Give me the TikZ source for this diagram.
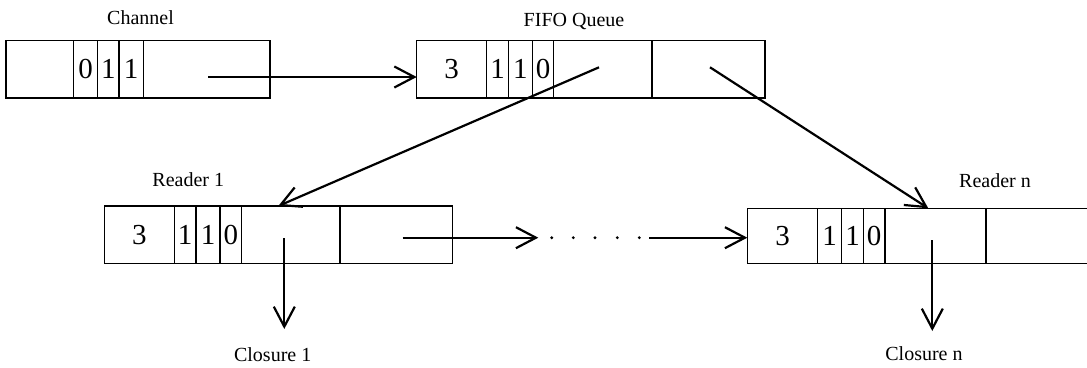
\documentclass[tikz,border=0pt]{standalone}
\usepackage{fontspec}
\setmainfont{Liberation Serif}
\usetikzlibrary{arrows.meta}
\begin{document}
\begin{tikzpicture}[x=1pt,y=-1pt,
  cell/.style={draw, line width=1.3pt, inner sep=0pt, outer sep=0pt, anchor=north west,
    font=\fontsize{29}{29}\selectfont},
  lbl/.style={anchor=base, inner sep=0pt, font=\fontsize{20}{20}\selectfont},
  arr/.style={line width=2.2pt, -{Straight Barb[length=20pt,width=21pt,line width=2.2pt]}}]
\useasboundingbox (0,0) rectangle (1087,367);
\begin{scope}
\clip (0,0) rectangle (1087,367);
% Channel
\node[cell, minimum width=67.7pt, minimum height=57.3pt] (c0) at (6,40.7) {};
\node[cell, minimum width=24pt, minimum height=57.3pt] (c1) at (73.7,40.7) {0};
\node[cell, minimum width=21.3pt, minimum height=57.3pt] (c2) at (97.7,40.7) {1};
\node[cell, minimum width=24.3pt, minimum height=57.3pt] (c3) at (119,40.7) {1};
\node[cell, minimum width=126.7pt, minimum height=57.3pt] (c4) at (143.3,40.7) {};
% FIFO Queue
\node[cell, minimum width=70pt, minimum height=57.3pt] (f0) at (416.7,40.7) {3};
\node[cell, minimum width=21.6pt, minimum height=57.3pt] (f1) at (486.7,40.7) {1};
\node[cell, minimum width=24pt, minimum height=57.3pt] (f2) at (508.3,40.7) {1};
\node[cell, minimum width=21.4pt, minimum height=57.3pt] (f3) at (532.3,40.7) {0};
\node[cell, minimum width=98.3pt, minimum height=57.3pt] (f4) at (553.7,40.7) {};
\node[cell, minimum width=113pt, minimum height=57.3pt] (f5) at (652,40.7) {};
% Reader 1
\node[cell, minimum width=70pt, minimum height=57.3pt] (a0) at (104.3,206) {3};
\node[cell, minimum width=21.7pt, minimum height=57.3pt] (a1) at (174.3,206) {1};
\node[cell, minimum width=24pt, minimum height=57.3pt] (a2) at (196,206) {1};
\node[cell, minimum width=21.7pt, minimum height=57.3pt] (a3) at (220,206) {0};
\node[cell, minimum width=98.3pt, minimum height=57.3pt] (a4) at (241.7,206) {};
\node[cell, minimum width=112.7pt, minimum height=57.3pt] (a5) at (340,206) {};
% Reader n
\node[cell, minimum width=70.4pt, minimum height=55pt] (b0) at (747.3,208.3) {3};
\node[cell, minimum width=24pt, minimum height=55pt] (b1) at (817.7,208.3) {1};
\node[cell, minimum width=21.6pt, minimum height=55pt] (b2) at (841.7,208.3) {1};
\node[cell, minimum width=21.7pt, minimum height=55pt] (b3) at (863.3,208.3) {0};
\node[cell, minimum width=101pt, minimum height=55pt] (b4) at (885,208.3) {};
\node[cell, minimum width=120pt, minimum height=55pt] (b5) at (986,208.3) {};
\end{scope}
% labels
\node[lbl] (lch) at (140.5,24) {Channel};
\node[lbl] (lfi) at (574,26) {FIFO Queue};
\node[lbl] (lr1) at (188.3,186) {Reader 1};
\node[lbl] (lrn) at (995,187.7) {Reader n};
\node[lbl] (lc1) at (272.7,361.7) {Closure 1};
\node[lbl] (lcn) at (924,360) {Closure n};
% connector coordinates
\coordinate (chs) at (208,77);
\coordinate (fs1) at (599,67.3);
\coordinate (fs2) at (710,67.3);
\coordinate (r1in) at (278.3,206);
\coordinate (rnin) at (928.3,208.3);
\coordinate (r1s) at (402.7,237.7);
\coordinate (dA) at (538.3,237.7);
\coordinate (dB) at (649.3,237.7);
\coordinate (r1d) at (284.3,238.3);
\coordinate (c1e) at (284.3,329);
\coordinate (rnd) at (932.3,240);
\coordinate (cne) at (932.3,331);
% connectors
\draw[arr] (chs) -- (chs -| f0.west);
\draw[arr] (fs1) -- (r1in);
\draw[arr] (fs2) -- (rnin);
\draw[arr] (r1s) -- (dA);
\draw[arr] (dB) -- (dB -| b0.west);
\draw[arr] (r1d) -- (c1e);
\draw[arr] (rnd) -- (cne);
\foreach \x in {551.7,573.3,595,617.3,639.3}
  \fill (\x,237.7) circle (1.6pt);
\end{tikzpicture}
\end{document}
